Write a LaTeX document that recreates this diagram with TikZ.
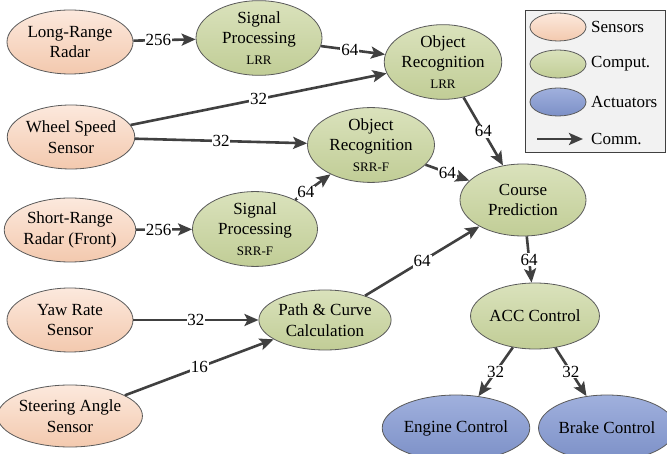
\documentclass[tikz,border=0pt]{standalone}
\usepackage{fontspec}
\setmainfont{Liberation Serif}
\newfontfamily\labelfont{Liberation Serif}
\usetikzlibrary{arrows.meta,shapes.geometric}

\definecolor{edgegray}{HTML}{404040}
\definecolor{rimgray}{HTML}{5A5A5A}
\definecolor{senstop}{HTML}{FCE9DD}
\definecolor{sensbot}{HTML}{F3C9AE}
\definecolor{comptop}{HTML}{DAE2BC}
\definecolor{compbot}{HTML}{C1CD96}
\definecolor{acttop}{HTML}{A0B0DD}
\definecolor{actbot}{HTML}{7C90C7}
\definecolor{legendbg}{HTML}{F2F2F2}

\newcommand{\subtag}[1]{{\fontsize{13}{15}\selectfont #1}}

\tikzset{
  blob/.style={ellipse, draw=rimgray, line width=0.8pt, inner sep=0pt,
    align=center, font=\labelfont\fontsize{17}{20.5}\selectfont},
  sensor/.style={blob, top color=senstop, bottom color=sensbot},
  comput/.style={blob, top color=comptop, bottom color=compbot},
  actuator/.style={blob, top color=acttop, bottom color=actbot},
  sz/.style n args={2}{minimum width=#1pt, minimum height=#2pt},
  comm/.style={draw=edgegray, line width=2.6pt,
    -{Stealth[length=14pt, width=12pt, inset=3pt]}},
  lbl/.style={fill=white, inner sep=0.8pt, font=\labelfont\fontsize{17}{20}\selectfont},
  keytext/.style={anchor=west, inner sep=0pt, font=\labelfont\fontsize{17}{20}\selectfont}
}

\begin{document}
\begin{tikzpicture}[x=1pt, y=-1pt]
\useasboundingbox (0,0) rectangle (667,454);

% sensors
\node[sensor, sz={126}{64}] (lrr)   at (70,42)  {Long-Range\\Radar};
\node[sensor, sz={126}{64}] (wheel) at (71,137) {Wheel Speed\\Sensor};
\node[sensor, sz={126}{64}] (srr)   at (70,230) {Short-Range\\Radar (Front)};
\node[sensor, sz={126}{64}] (yaw)   at (70,320) {Yaw Rate\\Sensor};
\node[sensor, sz={126}{62}] (steer) at (70,416) {Steering Angle\\Sensor};

% computation
\node[comput, sz={126}{72}] (splrr) at (259,38)  {Signal\\Processing\\\subtag{LRR}};
\node[comput, sz={116}{68}] (orlrr) at (443,62)  {Object\\Recognition\\\subtag{LRR}};
\node[comput, sz={127}{64}] (orsrr) at (371,145) {Object\\Recognition\\\subtag{SRR-F}};
\node[comput, sz={125}{70}] (spsrr) at (255,229) {Signal\\Processing\\\subtag{SRR-F}};
\node[comput, sz={126}{72}] (course) at (523,200) {Course\\Prediction};
\node[comput, sz={125}{60}] (path)  at (325,320) {Path \& Curve\\Calculation};
\node[comput, sz={126}{66}] (acc)   at (535,316) {ACC Control};

% actuators
\node[actuator, sz={126}{66}] (engine) at (456,428) {Engine Control};
\node[actuator, sz={126}{66}] (brake)  at (607,428) {Brake Control};

% communication links
\draw[comm] (lrr)   -- node[lbl, pos=0.4]  {256} (splrr);
\draw[comm] (splrr) -- node[lbl, pos=0.45] {64}  (orlrr);
\draw[comm] (wheel) -- node[lbl]           {32}  (orlrr);
\draw[comm] (wheel) -- node[lbl]           {32}  (orsrr);
\draw[comm] (srr)   -- node[lbl, pos=0.4]  {256} (spsrr);
\draw[comm] (spsrr) -- node[lbl, pos=0.3]  {64}  (orsrr);
\draw[comm] (orlrr) -- node[lbl]           {64}  (course);
\draw[comm] (orsrr) -- node[lbl]           {64}  (course);
\draw[comm] (path)  -- node[lbl]           {64}  (course);
\draw[comm] (yaw)   -- node[lbl]           {32}  (path);
\draw[comm] (steer) -- node[lbl]           {16}  (path);
\draw[comm] (course) -- node[lbl]          {64}  (acc);
\draw[comm] (acc)   -- node[lbl]           {32}  (engine);
\draw[comm] (acc)   -- node[lbl]           {32}  (brake);

% legend
\node[draw=edgegray, line width=0.8pt, fill=legendbg, minimum width=140pt,
      minimum height=142pt, inner sep=0pt] (legend) at (595,81) {};
\node[sensor, sz={56}{28}] (keysens) at (558,27)  {};
\node[comput, sz={56}{28}] (keycomp) at (558,64)  {};
\node[actuator, sz={56}{28}] (keyact) at (558,102) {};
\node[keytext] (tsens) at (591,27)  {Sensors};
\node[keytext] (tcomp) at (591,64)  {Comput.};
\node[keytext] (tact)  at (591,102) {Actuators};
\node[keytext] (tcomm) at (591,139) {Comm.};
\coordinate (keyfrom) at (537,139);
\coordinate (keyto)   at (583,139);
\draw[comm] (keyfrom) -- (keyto);
\end{tikzpicture}
\end{document}
